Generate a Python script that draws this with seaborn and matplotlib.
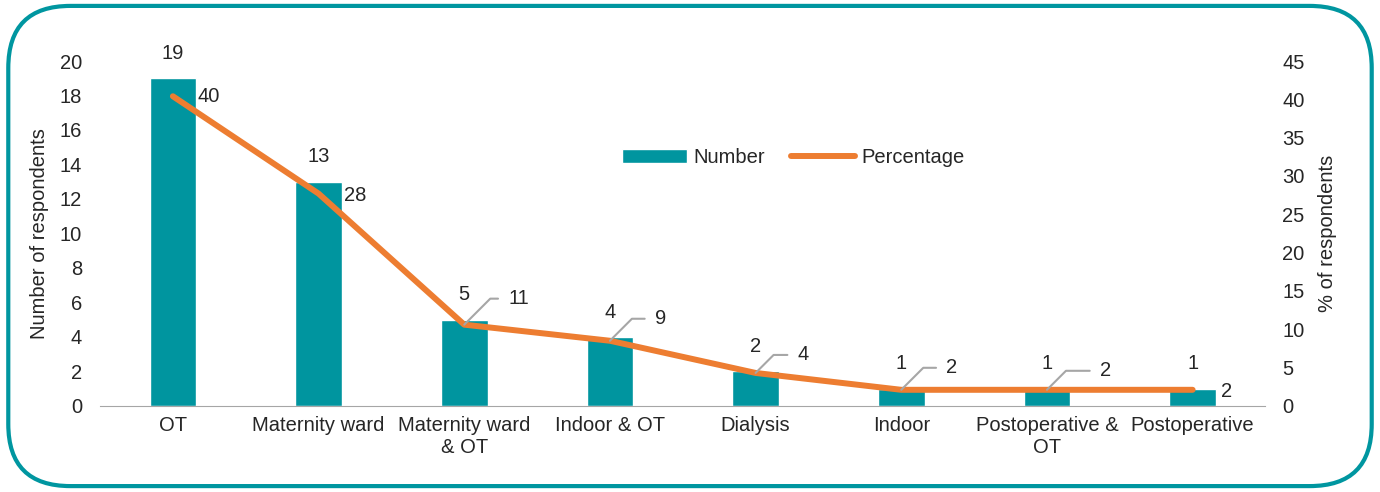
import seaborn as sns
import matplotlib.pyplot as plt
import pandas as pd
from matplotlib.patches import FancyBboxPatch

categories = ['OT', 'Maternity ward', 'Maternity ward\n& OT', 'Indoor & OT',
              'Dialysis', 'Indoor', 'Postoperative &\nOT', 'Postoperative']
number = [19, 13, 5, 4, 2, 1, 1, 1]
percentage = [40.4, 27.7, 10.6, 8.5, 4.3, 2.1, 2.1, 2.1]
pct_labels = ['40', '28', '11', '9', '4', '2', '2', '2']

teal = '#00959F'
orange = '#ED7D31'
fs = 14.5

df = pd.DataFrame({'cat': categories, 'number': number, 'pct': percentage,
                   'pos': range(len(categories))})

sns.set_style('white')
plt.rcParams['font.family'] = ['Liberation Sans', 'DejaVu Sans']
plt.rcParams['font.size'] = fs

fig = plt.figure(figsize=(13.8, 4.92), dpi=100)
ax = fig.add_axes([0.0725, 0.175, 0.8445, 0.701])

sns.barplot(data=df, x='cat', y='number', color=teal, width=0.32,
            saturation=1, ax=ax, label='Number')
ax.bar_label(ax.containers[0], padding=11, fontsize=fs)
ax.set_ylim(0, 20)
ax.set_yticks(range(0, 21, 2))
ax.set_xlim(-0.5, 7.5)
ax.set_xlabel('')
ax.set_ylabel('Number of respondents', fontsize=fs, labelpad=8)
for s in ['top', 'left', 'right']:
    ax.spines[s].set_visible(False)
ax.spines['bottom'].set_color('#A6A6A6')
ax.tick_params(length=0, labelsize=fs)
ax.tick_params(axis='y', pad=13)
ax.tick_params(axis='x', pad=7)

ax2 = ax.twinx()
sns.lineplot(data=df, x='pos', y='pct', color=orange, linewidth=4.3,
             solid_capstyle='round', ax=ax2, label='Percentage', legend=False)
ax2.set_ylim(0, 45)
ax2.set_yticks(range(0, 46, 5))
ax2.set_ylabel('% of respondents', fontsize=fs, labelpad=10)
for s in ax2.spines.values():
    s.set_visible(False)
ax2.tick_params(length=0, labelsize=fs, pad=12)
ax.set_xlim(-0.5, 7.5)

# percentage labels: plain ones sit right of the point, others use a leader line
offsets = {0: (25, 0), 1: (25, -2), 2: (44, 26), 3: (45, 22),
           4: (42, 18), 5: (45, 22), 6: (53, 19), 7: (28, -2)}
leader = {2, 3, 4, 5, 6}
for i, (p, lab) in enumerate(zip(percentage, pct_labels)):
    dx, dy = offsets[i]
    if i in leader:
        ax2.annotate(lab, xy=(i, p), xytext=(dx, dy), textcoords='offset pixels',
                     ha='left', va='center', fontsize=fs,
                     arrowprops=dict(arrowstyle='-', color='#A6A6A6', lw=1.5,
                                     shrinkA=5, shrinkB=0, relpos=(0, 0.5),
                                     connectionstyle='angle,angleA=0,angleB=45,rad=0'))
    else:
        ax2.annotate(lab, xy=(i, p), xytext=(dx, dy), textcoords='offset pixels',
                     ha='left', va='center', fontsize=fs)

h1, l1 = ax.get_legend_handles_labels()
h2, l2 = ax2.get_legend_handles_labels()
ax.legend(h1 + h2, l1 + l2, loc='center', bbox_to_anchor=(0.595, 0.72),
          ncol=2, frameon=False, fontsize=fs, handlelength=3.2,
          handletextpad=0.3, columnspacing=1.3)

border = FancyBboxPatch((0.006, 0.012), 0.988, 0.976, transform=fig.transFigure,
                        boxstyle='round,pad=0,rounding_size=0.045',
                        mutation_aspect=2.8, facecolor='none',
                        edgecolor='#0096A0', linewidth=3, zorder=-1)
fig.patches.append(border)

fig.savefig('out.png', dpi=100)
